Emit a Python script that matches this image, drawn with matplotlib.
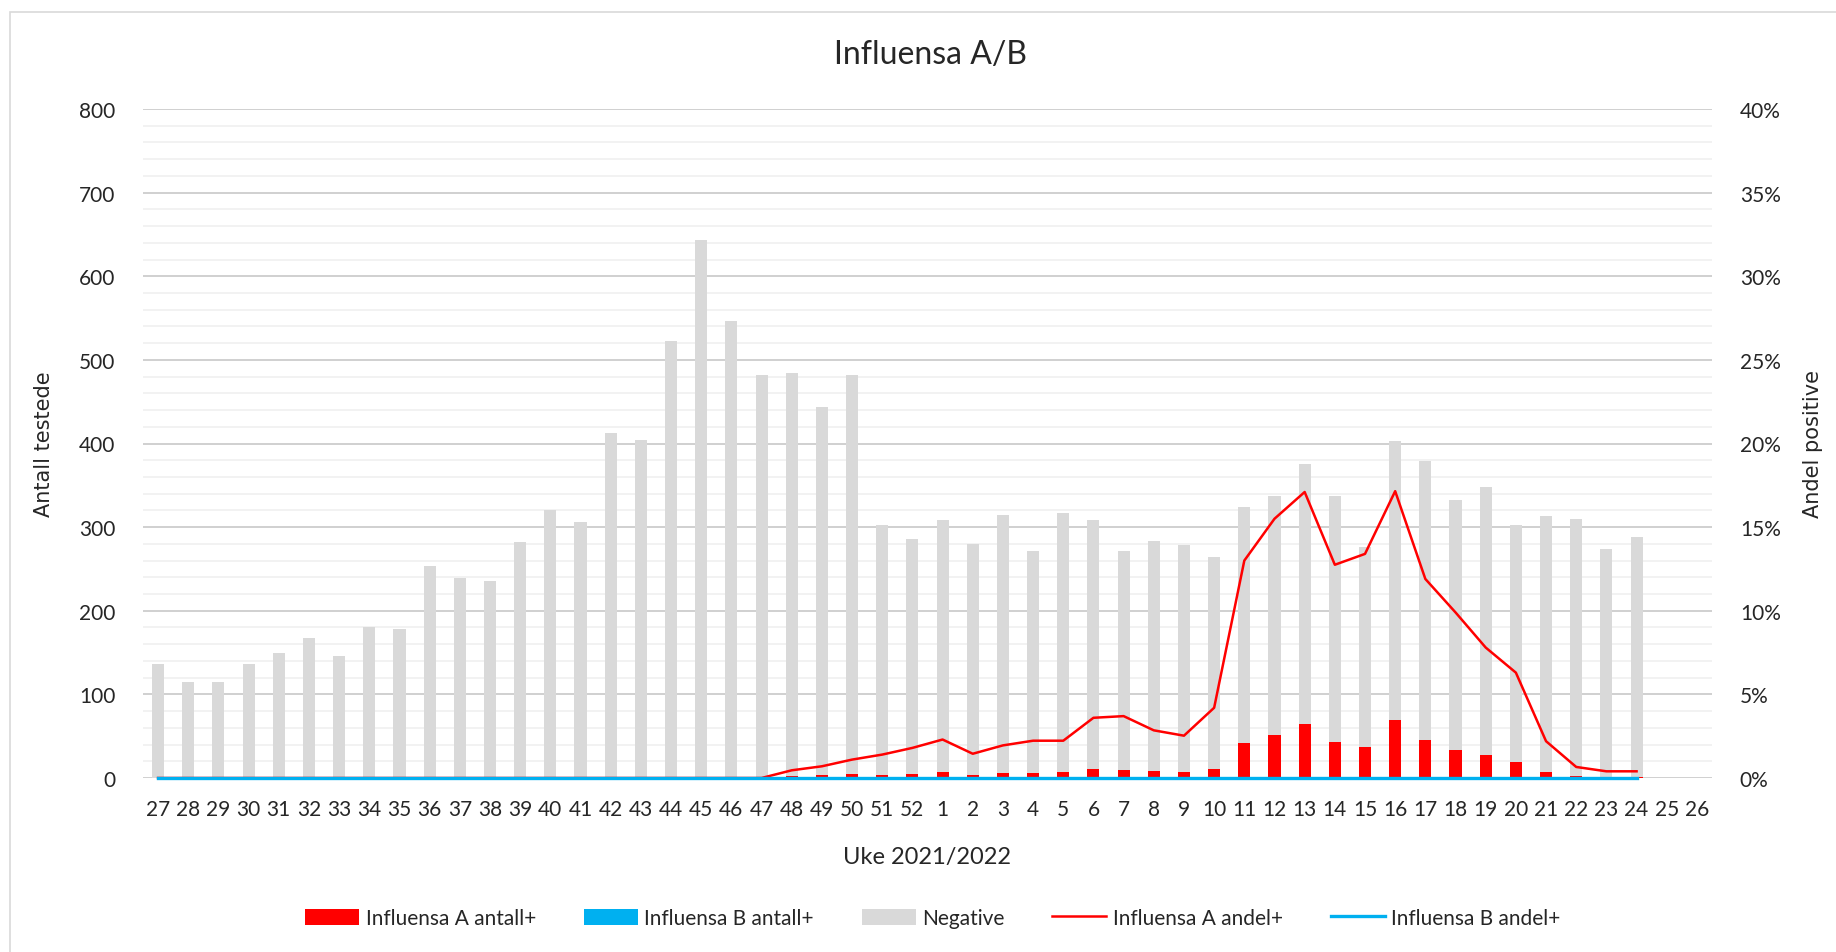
import numpy as np
import matplotlib
matplotlib.use("Agg")
import matplotlib.pyplot as plt
from matplotlib.ticker import MultipleLocator, PercentFormatter
from matplotlib.patches import Rectangle

# ── Data (weeks 27/2021 .. 26/2022) ──────────────────────────────────────────
weeks = [str(w) for w in range(27, 53)] + [str(w) for w in range(1, 27)]

infl_a_count = [0, 0, 0, 0, 0, 0, 0, 0, 0, 0, 0, 0, 0, 0, 0, 0, 0, 0, 0, 0,
                0, 2, 3, 5, 4, 5,
                7, 4, 6, 6, 7, 11, 10, 8, 7, 11, 42, 52, 64, 43, 37, 69, 45,
                33, 27, 19, 7, 2, 1, 1, None, None]
infl_b_count = [0] * 50 + [None, None]
negative = [136, 115, 115, 136, 149, 168, 146, 181, 178, 254, 239, 235, 282,
            320, 306, 412, 404, 522, 643, 546, 482, 482, 441, 477, 298, 281,
            301, 276, 308, 265, 310, 297, 261, 276, 272, 253, 282, 285, 311,
            294, 239, 334, 334, 300, 321, 284, 306, 308, 273, 287, None, None]
infl_a_share = [0, 0, 0, 0, 0, 0, 0, 0, 0, 0, 0, 0, 0, 0, 0, 0, 0, 0, 0, 0,
                0, 0.46, 0.7, 1.1, 1.4, 1.8,
                2.3, 1.45, 1.95, 2.23, 2.23, 3.6, 3.7, 2.85, 2.53, 4.2, 13.0,
                15.5, 17.1, 12.75, 13.4, 17.15, 11.9, 9.9, 7.8, 6.3, 2.2,
                0.66, 0.4, 0.4, None, None]
infl_b_share = [0] * 50 + [None, None]

RED = "#FF0000"
BLUE = "#00B0F0"
GREY = "#D9D9D9"
FONT = "Lato"
TXT = "#262626"


def arr(v):
    return np.array([np.nan if x is None else x for x in v], dtype=float)


def main():
    a = arr(infl_a_count)
    b = arr(infl_b_count)
    neg = arr(negative)
    x = np.arange(len(weeks))

    fig = plt.figure(figsize=(18.36, 9.53), dpi=100)
    fig.patch.set_facecolor("white")
    # outer chart-area border
    fig.patches.append(Rectangle((10 / 1836, -0.05), 1.2, 1.05 - 13 / 953,
                                 transform=fig.transFigure, fill=False,
                                 edgecolor="#D9D9D9", lw=1.2))

    ax = fig.add_axes([143 / 1836, 1 - 779 / 953, 1569 / 1836, 669 / 953])
    ax2 = ax.twinx()

    w = 0.4
    ax.bar(x, np.nan_to_num(a), w, color=RED, label="Influensa A antall+", zorder=3)
    ax.bar(x, np.nan_to_num(b), w, bottom=np.nan_to_num(a), color=BLUE,
           label="Influensa B antall+", zorder=3)
    ax.bar(x, np.nan_to_num(neg), w, bottom=np.nan_to_num(a) + np.nan_to_num(b),
           color=GREY, label="Negative", zorder=3)

    ax2.plot(x, arr(infl_a_share) / 100, color=RED, lw=1.8,
             label="Influensa A andel+", clip_on=False)
    ax2.plot(x, arr(infl_b_share) / 100, color=BLUE, lw=2.4,
             label="Influensa B andel+", clip_on=False)

    ax.set_xlim(-0.5, len(weeks) - 0.5)
    ax.set_ylim(0, 800)
    ax2.set_ylim(0, 0.4)
    ax.yaxis.set_major_locator(MultipleLocator(100))
    ax.yaxis.set_minor_locator(MultipleLocator(20))
    ax2.yaxis.set_major_locator(MultipleLocator(0.05))
    ax2.yaxis.set_major_formatter(PercentFormatter(1.0, decimals=0))

    ax.grid(axis="y", which="major", color="#D0D0D0", lw=1.4, zorder=0)
    ax.grid(axis="y", which="minor", color="#F0F0F0", lw=1.2, zorder=0)
    ax.set_axisbelow(True)

    for a_ in (ax, ax2):
        for s in a_.spines.values():
            s.set_visible(False)
        a_.tick_params(which="both", length=0)

    ax.set_xticks(x)
    ax.set_xticklabels(weeks, fontsize=15, family=FONT, color=TXT)
    ax.tick_params(axis="x", pad=15)
    ax.tick_params(axis="y", pad=20, labelsize=15, labelcolor=TXT)
    ax2.tick_params(axis="y", pad=20, labelsize=15, labelcolor=TXT)
    for lab in ax.get_yticklabels() + ax2.get_yticklabels():
        lab.set_family(FONT)

    ax.set_ylabel("Antall testede", fontsize=15, family="DejaVu Sans", color=TXT)
    ax.yaxis.set_label_coords(-0.057, 0.5)
    ax2.set_ylabel("Andel positive", fontsize=15, family="DejaVu Sans",
                   color=TXT, rotation=90)
    ax2.yaxis.set_label_coords(1.058, 0.5)

    fig.text(0.505, 1 - 858 / 953, "Uke 2021/2022", ha="center", va="center",
             fontsize=17, family=FONT, color=TXT)
    fig.text(0.507, 1 - 55 / 953, "Influensa A/B", ha="center", va="center",
             fontsize=23, family=FONT, color=TXT)

    h1, l1 = ax.get_legend_handles_labels()
    h2, l2 = ax2.get_legend_handles_labels()
    fig.legend(h1 + h2, l1 + l2, loc="center", bbox_to_anchor=(0.508, 1 - 919 / 953),
               ncol=5, frameon=False, prop={"family": FONT, "size": 15},
               handlelength=2.6, handleheight=0.8, columnspacing=2.3,
               handletextpad=0.3, labelcolor=TXT)

    fig.savefig("out.png", dpi=100, facecolor="white")


if __name__ == "__main__":
    main()
